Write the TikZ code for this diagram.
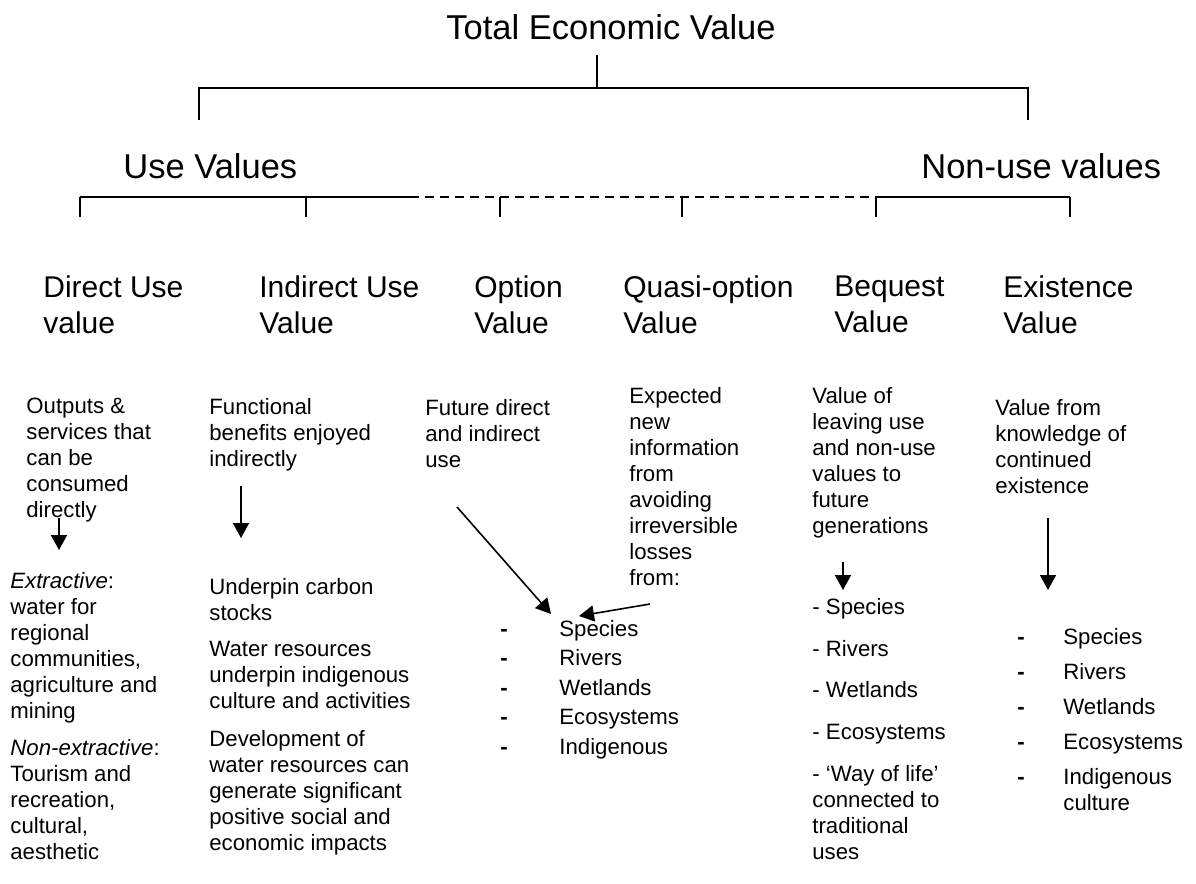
\documentclass[tikz,border=0pt]{standalone}
\usepackage{fontspec}
\setmainfont{Liberation Sans}
\usetikzlibrary{positioning, calc, arrows.meta}
\tikzset{
Arrow/.style = {
%thin arrow with a big filled head
line width = 0.8pt, -{Triangle[width=8pt, length=7.5pt]}
},
}

\begin{document}
\begin{tikzpicture}[x=0.5pt, y=-0.5pt,
				toplevel/.style = {anchor=north west, inner sep=0pt, font=\fontsize{17.25}{20}\selectfont},
				valuehead/.style = {anchor=north west, inner sep=0pt, align=left, font=\fontsize{15}{18}\selectfont, execute at begin node={\vphantom{Ol}}},
				body/.style = {anchor=north west, inner sep=0pt, align=left, font=\fontsize{11.1}{13}\selectfont, execute at begin node={\vphantom{Ol}}},
				branch/.style = {line width=0.8pt},
			]
			\useasboundingbox (0,0) rectangle (1196,884);

			% headings
			\node[toplevel](tev) at (446,14){Total Economic Value};
			\node[toplevel](use) at (123,153){Use Values};
			\node[toplevel](nonuse) at (921,153){Non-use values};

			% top bracket
			\coordinate(t0) at (597,55);
			\coordinate(t1) at (597,88);
			\coordinate(tl) at (199,88);
			\coordinate(tr) at (1028,88);
			\coordinate(tlb) at (199,120);
			\coordinate(trb) at (1028,120);
			\draw[branch](t0)--(t1);
			\draw[branch](tlb)--(tl)--(tr)--(trb);

			% second bracket
			\foreach \x [count=\i] in {80,306,500,682,876,1070}{
				\coordinate(s\i) at (\x,197);
				\coordinate(sb\i) at (\x,217);
				\draw[branch](s\i)--(sb\i);
			}
			\coordinate(dashL) at (410,197);
			\draw[branch](s1)--(dashL);
			\draw[branch, dash pattern=on 4.5pt off 3pt](dashL)--(s5);
			\draw[branch](s5)--(s6);

			% kinds of value
			\node[valuehead](dir) at (43,275){Direct Use\\value};
			\node[valuehead](ind) at (259,275){Indirect Use\\Value};
			\node[valuehead](opt) at (474,275){Option\\Value};
			\node[valuehead](quasi) at (623,275){Quasi-option\\Value};
			\node[valuehead](beq) at (834,275){Bequest\\Value};
			\node[valuehead](exi) at (1003,275){Existence\\Value};

			% descriptions
			\node[body](dirtxt) at (26,398){Outputs \&\\services that\\can be\\consumed\\directly};
			\node[body](indtxt) at (209,398){Functional\\benefits enjoyed\\indirectly};
			\node[body](opttxt) at (425,399){Future direct\\and indirect\\use};
			\node[body](quasitxt) at (629,387){Expected\\new\\information\\from\\avoiding\\irreversible\\losses\\from:};
			\node[body](beqtxt) at (812,387){Value of\\leaving use\\and non-use\\values to\\future\\generations};
			\node[body](exitxt) at (995,399){Value from\\knowledge of\\continued\\existence};

			% direct use examples
			\node[body](extr) at (10,572){\textit{Extractive}:\\water for\\regional\\communities,\\agriculture and\\mining};
			\node[body](nonextr) at (10,739){\textit{Non-extractive}:\\Tourism and\\recreation,\\cultural,\\aesthetic};

			% indirect use examples
			\node[body](carbon) at (209,578){Underpin carbon\\stocks};
			\node[body](water) at (209,641){Water resources\\underpin indigenous\\culture and activities};
			\node[body](devel) at (209,730){Development of\\water resources can\\generate significant\\positive social and\\economic impacts};

			% option / quasi-option list
			\foreach \t [count=\i] in {Species,Rivers,Wetlands,Ecosystems,Indigenous}{
				\node[body](optd\i) at (500,{620+29.5*(\i-1)}){\textbf{-}};
				\node[body](opti\i) at (559,{620+29.5*(\i-1)}){\t};
			}

			% bequest list
			\foreach \t [count=\i] in {- Species,- Rivers,- Wetlands,- Ecosystems,{- `Way of life'\\connected to\\traditional\\uses}}{
				\node[body](beqi\i) at (812,{598+41.75*(\i-1)}){\t};
			}

			% existence list
			\foreach \t [count=\i] in {Species,Rivers,Wetlands,Ecosystems,{Indigenous\\culture}}{
				\node[body](exid\i) at (1017,{628+35*(\i-1)}){\textbf{-}};
				\node[body](exii\i) at (1063,{628+35*(\i-1)}){\t};
			}

			% arrows
			\coordinate(dirA) at (59,518);
			\coordinate(dirB) at (59,550);
			\coordinate(indA) at (241,486);
			\coordinate(indB) at (241,538);
			\coordinate(optA) at (457,507);
			\coordinate(optB) at (551,614);
			\coordinate(quasiA) at (650,604);
			\coordinate(quasiB) at (579,616);
			\coordinate(beqA) at (843,562);
			\coordinate(beqB) at (843,590);
			\coordinate(exiA) at (1048,518);
			\coordinate(exiB) at (1048,590);

			\draw[Arrow](dirA)--(dirB);
			\draw[Arrow](indA)--(indB);
			\draw[Arrow](optA)--(optB);
			\draw[Arrow](quasiA)--(quasiB);
			\draw[Arrow](beqA)--(beqB);
			\draw[Arrow](exiA)--(exiB);

		\end{tikzpicture}
\end{document}
